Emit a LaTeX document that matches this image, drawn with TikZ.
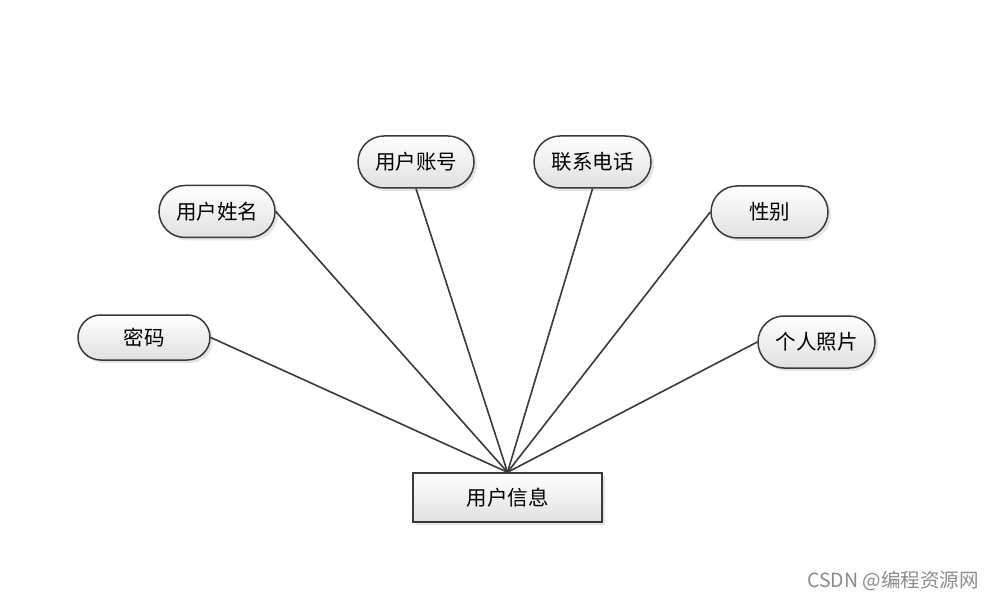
\documentclass[tikz,border=0pt]{standalone}
\usepackage{fontspec}
\newfontfamily\cjk{Noto Sans CJK SC}
\usetikzlibrary{shapes.misc,shadows}
\definecolor{linec}{HTML}{3A3A3A}
\begin{document}
\begin{tikzpicture}[x=1pt,y=-1pt,
  attr/.style={rounded rectangle, draw=linec, line width=1.5pt,
    top color=white, bottom color=black!12,
    drop shadow={shadow xshift=3pt, shadow yshift=-3pt, opacity=0.2},
    inner sep=0pt, font=\cjk\fontsize{20.5}{20.5}\selectfont},
  ent/.style={rectangle, draw=linec, line width=1.5pt,
    top color=white, bottom color=black!12,
    drop shadow={shadow xshift=3pt, shadow yshift=-3pt, opacity=0.2},
    inner sep=0pt, minimum width=189pt, minimum height=49pt,
    font=\cjk\fontsize{20.5}{20.5}\selectfont},
  conn/.style={draw=linec, line width=1.6pt}]
\useasboundingbox (0,0) rectangle (992,601);
\fill[white] (0,0) rectangle (992,601);
\node[ent] (info) at (507.5,497.5) {用户信息};
\node[attr, minimum width=132pt, minimum height=45pt] (mima) at (144,337.5) {密码};
\node[attr, minimum width=116pt, minimum height=52pt] (xingming) at (217,211.5) {用户姓名};
\node[attr, minimum width=116pt, minimum height=52pt] (zhanghao) at (416,162) {用户账号};
\node[attr, minimum width=117pt, minimum height=52pt] (dianhua) at (592.5,162) {联系电话};
\node[attr, minimum width=117pt, minimum height=52pt] (xingbie) at (769.5,212) {性别};
\node[attr, minimum width=117pt, minimum height=52pt] (zhaopian) at (816.5,342) {个人照片};
\draw[conn] (mima.east) -- (info.north);
\draw[conn] (xingming.east) -- (info.north);
\draw[conn] (zhanghao.south) -- (info.north);
\draw[conn] (dianhua.south) -- (info.north);
\draw[conn] (xingbie.west) -- (info.north);
\draw[conn] (zhaopian.west) -- (info.north);
\node[font=\cjk\fontsize{19.5}{19.5}\selectfont, text=black!45, anchor=east, inner sep=0pt] (wm) at (979,581) {CSDN @编程资源网};
\end{tikzpicture}
\end{document}
